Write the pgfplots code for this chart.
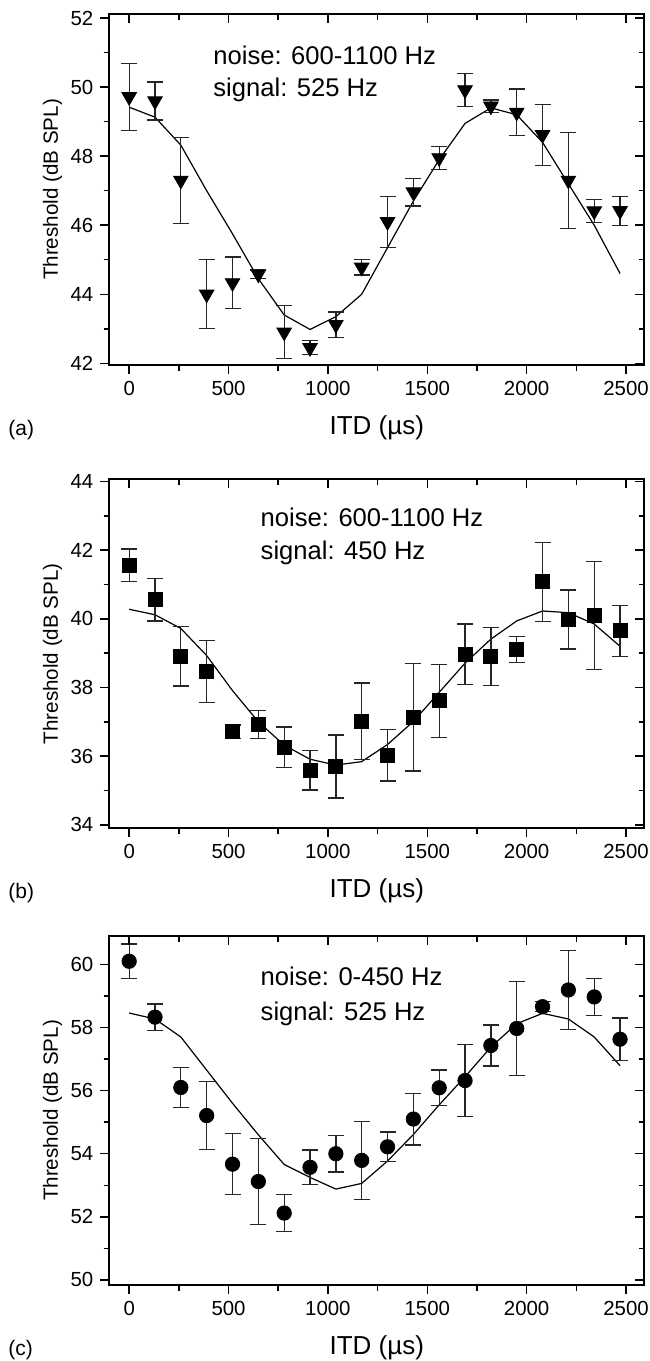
\documentclass[border=0pt]{standalone}
\usepackage{fontspec}
\setmainfont{Liberation Sans}
\usepackage{pgfplots}
\pgfplotsset{compat=1.18}

% 1px of the reference = 0.5pt
\pgfplotsset{
  itd/.style={
    scale only axis, width=267.5pt, anchor=north west,
    xmin=-100, xmax=2592,
    xtick={0,500,...,2500}, minor x tick num=1, minor y tick num=1,
    axis line style={line width=1pt},
    major tick length=4.5pt, minor tick length=2.75pt,
    every tick/.style={black, line width=0.75pt},
  },
  lower/.style={itd, tick align=outside, tick pos=left,
    tick label style={font=\fontsize{10.2}{12}\selectfont},
    /pgf/number format/assume math mode=true,
    /pgf/number format/1000 sep={},
    xlabel={ITD (µs)}, ylabel={Threshold (dB SPL)},
    xlabel style={font=\fontsize{13}{15}\selectfont, at={(axis description cs:0.5,0)}, anchor=base, yshift=-34.5pt},
    ylabel style={font=\fontsize{10.3}{12}\selectfont, at={(axis description cs:-0.096,0.5)}, anchor=base},
  },
  upper/.style={itd, tick align=inside, tick pos=right, xticklabels={}, yticklabels={}},
  geomA/.style={at={(54.65pt,-7pt)}, height=175.5pt, ymin=41.95, ymax=52.12, ytick={42,44,...,52}},
  geomB/.style={at={(54.65pt,-239.6pt)}, height=174.5pt, ymin=33.9, ymax=44.07, ytick={34,36,...,44}},
  geomC/.style={at={(54.65pt,-468pt)}, height=174.5pt, ymin=49.84, ymax=60.9, ytick={50,52,...,60}},
  fit/.style={black, line width=0.6pt, no marks},
  pts/.style={only marks, black,
    error bars/y dir=both, error bars/y explicit,
    error bars/error bar style={line width=0.65pt, black!85},
    error bars/error mark options={rotate=90, line width=0.65pt, black!85, mark size=4pt}},
}
\tikzset{
  note/.style={anchor=base west, inner sep=0pt, font=\fontsize{12.8}{15}\selectfont},
  tag/.style={anchor=base west, inner sep=0pt, font=\fontsize{10.5}{12}\selectfont},
}

\begin{document}
\begin{tikzpicture}
\useasboundingbox (0,0) rectangle (324.5pt,-680.5pt);

% ---------- (a) ----------
\begin{axis}[lower, geomA]
\addplot[fit] coordinates {
  (0,49.42) (130,49.13) (260,48.32) (390,47.0) (520,45.75) (650,44.45)
  (780,43.4) (910,42.98) (1040,43.35) (1170,44.0) (1300,45.35) (1430,46.7)
  (1560,47.9) (1690,48.95) (1820,49.4) (1950,49.2) (2080,48.4) (2210,47.2)
  (2340,46.0) (2470,44.6)
};
\addplot[pts, mark=triangle*, mark size=4.2pt, mark options={rotate=180, fill=black}] coordinates {
  (0,49.72) +- (0,0.97)
  (130,49.6) +- (0,0.55)
  (260,47.3) +- (0,1.24)
  (390,44.0) +- (0,1.0)
  (520,44.33) +- (0,0.75)
  (650,44.58) +- (0,0.12)
  (780,42.9) +- (0,0.77)
  (910,42.45) +- (0,0.2)
  (1040,43.12) +- (0,0.37)
  (1170,44.78) +- (0,0.22)
  (1300,46.1) +- (0,0.74)
  (1430,46.96) +- (0,0.4)
  (1560,47.95) +- (0,0.33)
  (1690,49.92) +- (0,0.48)
  (1820,49.45) +- (0,0.18)
  (1950,49.27) +- (0,0.68)
  (2080,48.62) +- (0,0.88)
  (2210,47.3) +- (0,1.39)
  (2340,46.41) +- (0,0.34)
  (2470,46.42) +- (0,0.42)
};
\node[note] at (axis cs:422,50.67) {noise: 600-1100 Hz};
\node[note] at (axis cs:422,49.73) {signal: 525 Hz};
\end{axis}
\begin{axis}[upper, geomA]
\end{axis}
\node[tag] at (4pt,-217.5pt) {(a)};

% ---------- (b) ----------
\begin{axis}[lower, geomB]
\addplot[fit] coordinates {
  (0,40.28) (130,40.12) (260,39.72) (390,38.93) (520,37.91) (650,37.0)
  (780,36.32) (910,35.91) (1040,35.74) (1170,35.84) (1300,36.34) (1430,37.01)
  (1560,37.86) (1690,38.71) (1820,39.41) (1950,39.94) (2080,40.23) (2210,40.18)
  (2340,39.85) (2470,39.2)
};
\addplot[pts, mark=square*, mark size=3.5pt, mark options={fill=black}] coordinates {
  (0,41.56) +- (0,0.48)
  (130,40.56) +- (0,0.62)
  (260,38.91) +- (0,0.87)
  (390,38.46) +- (0,0.9)
  (520,36.71) +- (0,0.2)
  (650,36.92) +- (0,0.41)
  (780,36.26) +- (0,0.59)
  (910,35.59) +- (0,0.58)
  (1040,35.7) +- (0,0.92)
  (1170,37.02) +- (0,1.11)
  (1300,36.03) +- (0,0.75)
  (1430,37.13) +- (0,1.56)
  (1560,37.61) +- (0,1.07)
  (1690,38.97) +- (0,0.88)
  (1820,38.9) +- (0,0.84)
  (1950,39.1) +- (0,0.38)
  (2080,41.08) +- (0,1.15)
  (2210,39.98) +- (0,0.86)
  (2340,40.1) +- (0,1.58)
  (2470,39.65) +- (0,0.75)
};
\node[note] at (axis cs:660,42.70) {noise: 600-1100 Hz};
\node[note] at (axis cs:660,41.73) {signal: 450 Hz};
\end{axis}
\begin{axis}[upper, geomB]
\end{axis}
\node[tag] at (4pt,-449pt) {(b)};

% ---------- (c) ----------
\begin{axis}[lower, geomC]
\addplot[fit] coordinates {
  (0,58.46) (130,58.27) (260,57.7) (390,56.65) (520,55.6) (650,54.6)
  (780,53.66) (910,53.25) (1040,52.88) (1170,53.06) (1300,53.77) (1430,54.61)
  (1560,55.55) (1690,56.44) (1820,57.38) (1950,58.12) (2080,58.45) (2210,58.27)
  (2340,57.7) (2470,56.79)
};
\addplot[pts, mark=*, mark size=3.6pt, mark options={fill=black}] coordinates {
  (0,60.1) +- (0,0.55)
  (130,58.33) +- (0,0.42)
  (260,56.1) +- (0,0.63)
  (390,55.21) +- (0,1.07)
  (520,53.67) +- (0,0.97)
  (650,53.12) +- (0,1.36)
  (780,52.12) +- (0,0.58)
  (910,53.57) +- (0,0.55)
  (1040,54.0) +- (0,0.58)
  (1170,53.79) +- (0,1.24)
  (1300,54.22) +- (0,0.47)
  (1430,55.1) +- (0,0.82)
  (1560,56.09) +- (0,0.56)
  (1690,56.32) +- (0,1.14)
  (1820,57.43) +- (0,0.65)
  (1950,57.97) +- (0,1.48)
  (2080,58.66) +- (0,0.16)
  (2210,59.19) +- (0,1.25)
  (2340,58.97) +- (0,0.59)
  (2470,57.63) +- (0,0.67)
};
\node[note] at (axis cs:660,59.32) {noise: 0-450 Hz};
\node[note] at (axis cs:660,58.22) {signal: 525 Hz};
\end{axis}
\begin{axis}[upper, geomC]
\end{axis}
\node[tag] at (4pt,-677.5pt) {(c)};
\end{tikzpicture}
\end{document}
